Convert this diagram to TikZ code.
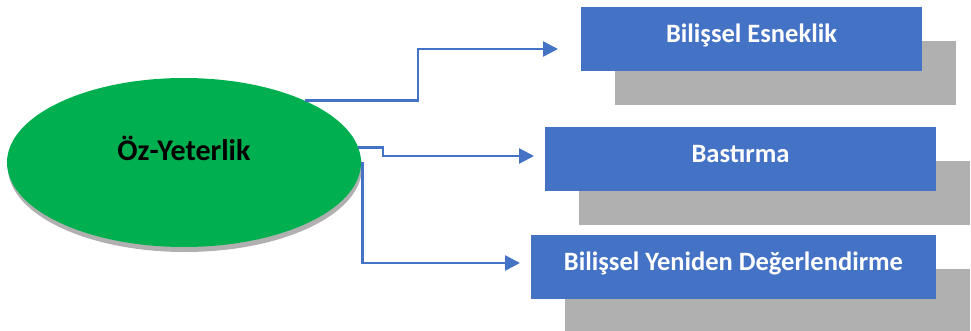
\documentclass[tikz,border=0pt]{standalone}
\usepackage{fontspec}
\setmainfont{Carlito}
\usetikzlibrary{shapes.geometric,arrows.meta}
\definecolor{boxblue}{HTML}{4472C4}
\definecolor{ovalgreen}{HTML}{00B050}
\definecolor{shadowgray}{HTML}{B0B0B0}
\tikzset{
  bluebox/.style={fill=boxblue, draw=none, minimum width=#1, minimum height=64pt, inner sep=0pt},
  graybox/.style={fill=shadowgray, draw=none, minimum width=#1, minimum height=64pt, inner sep=0pt},
  boxlabel/.style={anchor=base, inner sep=0pt, font=\bfseries\fontsize{26.5}{30}\selectfont, text=white},
  oval/.style={ellipse, fill=ovalgreen, draw=none, minimum width=354pt, minimum height=169pt, inner sep=0pt},
  conn/.style={draw=boxblue, line width=2.6pt, -{Triangle[length=15pt,width=15pt]}},
}
\begin{document}
\begin{tikzpicture}[x=1pt,y=-1pt]
\clip (0,0) rectangle (971,331);
\fill[white] (0,0) rectangle (971,331);

% offset shadows behind the three boxes
\node[graybox=341pt] (g1) at (785.5,73) {};
\node[graybox=391pt] (g2) at (774.5,193) {};
\node[graybox=405pt] (g3) at (767.5,301) {};

% blue boxes
\node[bluebox=341pt] (b1) at (751.5,39) {};
\node[bluebox=391pt] (b2) at (740.5,159) {};
\node[bluebox=405pt] (b3) at (733.5,267) {};
\node[boxlabel] (t1) at (751.5,43) {Bilişsel Esneklik};
\node[boxlabel] (t2) at (740.5,163) {Bastırma};
\node[boxlabel] (t3) at (733.5,270) {Bilişsel Yeniden Değerlendirme};

% central oval with its shadow
\node[oval, fill=shadowgray] (Es) at (185,167.5) {};
\node[oval] (E) at (184,162.5) {};
\node[anchor=base, inner sep=0pt, font=\bfseries\fontsize{30}{34}\selectfont, text=black] (Et) at (184,161) {Öz-Yeterlik};

% connector bends and arrow tips
\coordinate (k1) at (418,49);
\coordinate (a1) at (558,49);
\coordinate (k2) at (383,156);
\coordinate (a2) at (534,156);
\coordinate (a3) at (520,263);

\draw[conn] (E.27) -| (k1) -- (a1);
\draw[conn] (E.5) -| (k2) -- (a2);
\draw[conn] ([xshift=1pt]E.east) |- (a3);
\end{tikzpicture}
\end{document}
